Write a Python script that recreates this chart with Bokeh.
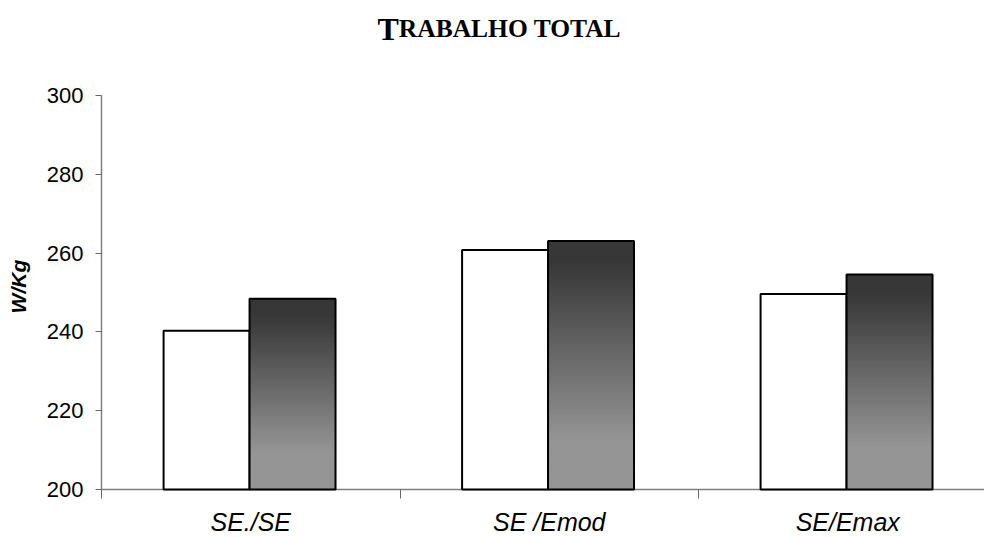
import math
from bokeh.plotting import figure
from bokeh.models import FixedTicker, Range1d, Label, ColumnDataSource
from bokeh.embed import file_html
from bokeh.resources import INLINE

# Categories and the two series (W/Kg)
categories = ["SE./SE", "SE /Emod", "SE/Emax"]
series_a = [240.3, 260.8, 249.6]   # white bars
series_b = [248.4, 263.1, 254.6]   # shaded bars
y_ticks = [200, 220, 240, 260, 280, 300]

BASE = 200
BAR_W = 0.288
W, H = 984, 537
PX_PER_UNIT = 3.94          # vertical scale of the value axis
BASE_PX = 489               # canvas row of the value 200
PX_PER_CAT = 298.5          # width of one category
AXIS_PX = 101               # canvas column of the value axis

# The frame covers the whole canvas; both axes are pinned inside it
p = figure(width=W, height=H, output_backend="svg", toolbar_location=None,
           x_range=Range1d(-AXIS_PX / PX_PER_CAT, (W - AXIS_PX) / PX_PER_CAT),
           y_range=Range1d(200 - (H - BASE_PX) / PX_PER_UNIT, 200 + BASE_PX / PX_PER_UNIT),
           min_border_left=0, min_border_right=0, min_border_top=0,
           min_border_bottom=0)
p.outline_line_color = None
p.xgrid.visible = False
p.ygrid.visible = False
p.background_fill_color = "white"
p.border_fill_color = "white"

centers = [i + 0.5 for i in range(len(categories))]

# White bars (left of each group)
src_a = ColumnDataSource(dict(x=[c - BAR_W / 2 - 0.004 for c in centers], top=series_a))
p.vbar(x="x", top="top", bottom=BASE, width=BAR_W, source=src_a,
       fill_color="white", line_color="black", line_width=2)

# Shaded bars: vertical gradient from overlapping rectangles, tallest (darkest) first
dark = (0x37, 0x37, 0x37)
light = (0x95, 0x95, 0x95)
N = 80
qx0, qx1, qt, qc = [], [], [], []
for c, v in zip(centers, series_b):
    x0 = c - 0.004
    for k in range(N):
        f = k / N                      # 0 at the bar top, towards 1 at its base
        t = v - (v - BASE) * f
        s = min(1.0, max(0.0, (f - 0.08) / 0.72))
        col = tuple(int(round(d + (l - d) * s)) for d, l in zip(dark, light))
        qx0.append(x0); qx1.append(x0 + BAR_W); qt.append(t)
        qc.append("#%02x%02x%02x" % col)
p.quad(left=qx0, right=qx1, bottom=BASE, top=qt, fill_color=qc, line_color=None)

src_b = ColumnDataSource(dict(x=[c + BAR_W / 2 - 0.004 for c in centers], top=series_b))
p.vbar(x="x", top="top", bottom=BASE, width=BAR_W, source=src_b,
       fill_alpha=0, line_color="black", line_width=2)

# X axis: category labels centred, tick marks at category boundaries
xa = p.xaxis[0]
xa.level = "underlay"
xa.fixed_location = 200
xa.bounds = (0, (W - AXIS_PX) / PX_PER_CAT)
xa.ticker = FixedTicker(ticks=centers, minor_ticks=[0, 1, 2, 3])
xa.major_label_overrides = {c: name for c, name in zip(centers, categories)}
xa.major_tick_out = 0
xa.major_tick_in = 0
xa.minor_tick_out = 9
xa.minor_tick_in = 0
xa.minor_tick_line_color = "#666666"
xa.axis_line_color = "#7f7f7f"
xa.axis_line_width = 1.5
xa.major_label_text_font = "Liberation Sans"
xa.major_label_text_font_style = "italic"
xa.major_label_text_font_size = "25px"
xa.major_label_text_color = "black"
xa.major_label_standoff = 9

# Y axis, drawn only over the 200-300 span
ya = p.yaxis[0]
ya.fixed_location = 0
ya.bounds = (200, 300)
ya.ticker = FixedTicker(ticks=y_ticks, minor_ticks=[])
ya.major_tick_out = 6
ya.major_tick_in = 0
ya.major_tick_line_color = "#666666"
ya.axis_line_color = "#7f7f7f"
ya.axis_line_width = 1.5
ya.major_label_text_font = "Liberation Sans"
ya.major_label_text_font_size = "22px"
ya.major_label_text_color = "black"
ya.major_label_standoff = 12

# Value axis title, rotated
p.add_layout(Label(x=-83 / PX_PER_CAT, y=251.5, text="W/Kg", angle=math.pi / 2,
                   text_font="Liberation Sans", text_font_style="bold italic",
                   text_font_size="21px", text_align="center",
                   text_baseline="alphabetic", text_color="black"))

# Title in small caps: large initial, smaller remaining letters
title_y = 317.0
p.add_layout(Label(x=276 / PX_PER_CAT, y=title_y, text="T", text_font="Liberation Serif",
                   text_font_style="bold", text_font_size="32px",
                   text_baseline="alphabetic", text_align="left", text_color="black"))
p.add_layout(Label(x=297.3 / PX_PER_CAT, y=title_y, text="RABALHO TOTAL",
                   text_font="Liberation Serif", text_font_style="bold",
                   text_font_size="25.5px", text_baseline="alphabetic",
                   text_align="left", text_color="black"))

open("out.html", "w").write(file_html(p, INLINE))
